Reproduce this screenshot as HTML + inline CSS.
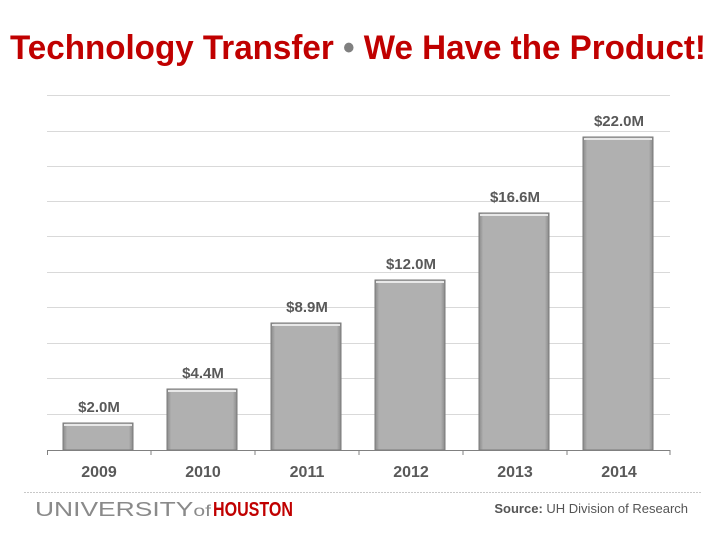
<!DOCTYPE html>
<html><head><style>
body{margin:0;width:720px;height:540px;background:#fff;font-family:"Liberation Sans",sans-serif;position:relative;overflow:hidden}
</style></head><body>
<svg width="720" height="540" style="position:absolute;left:0;top:0">
<defs><linearGradient id="g" x1="0" y1="0" x2="1" y2="0"><stop offset="0" stop-color="#8a8a8a"/><stop offset="0.06" stop-color="#b0b0b0"/><stop offset="0.94" stop-color="#b0b0b0"/><stop offset="1" stop-color="#8a8a8a"/></linearGradient></defs>
<text x="10" y="59" font-family="Liberation Sans" font-weight="bold" font-size="34" fill="#c00000" textLength="696" lengthAdjust="spacingAndGlyphs">Technology Transfer <tspan fill="#808080">•</tspan> We Have the Product!</text>
<g stroke="#d9d9d9" stroke-width="1">
<line x1="47" x2="670" y1="95.5" y2="95.5"/><line x1="47" x2="670" y1="131.5" y2="131.5"/><line x1="47" x2="670" y1="166.5" y2="166.5"/><line x1="47" x2="670" y1="201.5" y2="201.5"/><line x1="47" x2="670" y1="236.5" y2="236.5"/><line x1="47" x2="670" y1="272.5" y2="272.5"/><line x1="47" x2="670" y1="307.5" y2="307.5"/><line x1="47" x2="670" y1="343.5" y2="343.5"/><line x1="47" x2="670" y1="378.5" y2="378.5"/><line x1="47" x2="670" y1="414.5" y2="414.5"/></g>
<g fill="url(#g)" stroke="#7a7a7a" stroke-width="1">
<rect x="63" y="423" width="70" height="27"/><rect x="167" y="389" width="70" height="61"/><rect x="271" y="323" width="70" height="127"/><rect x="375" y="280" width="70" height="170"/><rect x="479" y="213" width="70" height="237"/><rect x="583" y="137" width="70" height="313"/></g>
<g fill="#e8e8e8"><rect x="64" y="424" width="68" height="2"/><rect x="168" y="390" width="68" height="2"/><rect x="272" y="324" width="68" height="2"/><rect x="376" y="281" width="68" height="2"/><rect x="480" y="214" width="68" height="2"/><rect x="584" y="138" width="68" height="2"/></g>
<g stroke="#808080"><line x1="47" x2="670" y1="450.5" y2="450.5"/>
<line x1="47.5" x2="47.5" y1="450" y2="455"/><line x1="151" x2="151" y1="450" y2="455"/><line x1="255" x2="255" y1="450" y2="455"/><line x1="359" x2="359" y1="450" y2="455"/><line x1="463" x2="463" y1="450" y2="455"/><line x1="567" x2="567" y1="450" y2="455"/><line x1="670" x2="670" y1="450" y2="455"/></g>
<g font-family="Liberation Sans" font-weight="bold" font-size="15" fill="#595959" text-anchor="middle">
<text x="99" y="412">$2.0M</text><text x="203" y="378">$4.4M</text><text x="307" y="312">$8.9M</text><text x="411" y="269">$12.0M</text><text x="515" y="202">$16.6M</text><text x="619" y="126">$22.0M</text>
<text x="99" y="477" font-size="16">2009</text><text x="203" y="477" font-size="16">2010</text><text x="307" y="477" font-size="16">2011</text><text x="411" y="477" font-size="16">2012</text><text x="515" y="477" font-size="16">2013</text><text x="619" y="477" font-size="16">2014</text></g>
<line x1="24" x2="702" y1="492.5" y2="492.5" stroke="#c8c8c8" stroke-dasharray="2,1"/>
<text x="35" y="516" font-family="Liberation Sans" font-size="20" fill="#8a8a8a" textLength="176" lengthAdjust="spacingAndGlyphs">UNIVERSITY<tspan font-size="16">of</tspan></text>
<text x="213" y="516" font-family="Liberation Sans" font-weight="bold" font-size="20" fill="#c00000" textLength="80" lengthAdjust="spacingAndGlyphs">HOUSTON</text>
<text x="688" y="513" font-family="Liberation Sans" font-size="13" fill="#555" text-anchor="end"><tspan font-weight="bold">Source:</tspan> UH Division of Research</text>
</svg>
</body></html>
